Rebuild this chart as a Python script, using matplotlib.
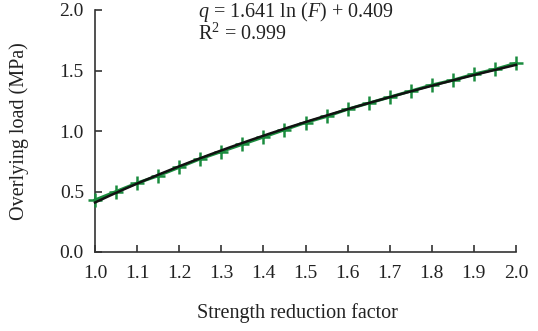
import matplotlib
matplotlib.use("Agg")
import matplotlib.pyplot as plt
import numpy as np

plt.rcParams['font.family'] = ['Liberation Serif', 'DejaVu Serif']
plt.rcParams['mathtext.fontset'] = 'custom'
plt.rcParams['mathtext.rm'] = 'Liberation Serif'
plt.rcParams['mathtext.it'] = 'Liberation Serif:italic'

factor = [1.00, 1.05, 1.10, 1.15, 1.20, 1.25, 1.30, 1.35, 1.40, 1.45, 1.50,
          1.55, 1.60, 1.65, 1.70, 1.75, 1.80, 1.85, 1.90, 1.95, 2.00]
load = [0.43, 0.50, 0.57, 0.63, 0.70, 0.77, 0.83, 0.89, 0.95, 1.01, 1.07,
        1.12, 1.18, 1.23, 1.28, 1.33, 1.38, 1.42, 1.47, 1.51, 1.56]
fit_a = 1.641
fit_b = 0.409
x_ticks = [1.0, 1.1, 1.2, 1.3, 1.4, 1.5, 1.6, 1.7, 1.8, 1.9, 2.0]
y_ticks = [0.0, 0.5, 1.0, 1.5, 2.0]

fig = plt.figure(figsize=(5.38, 3.31), dpi=100)
ax = fig.add_axes([95/538, 1-252/331, (516-95)/538, (252-10)/331])

ax.plot(factor, load, color='#1a8c3e', lw=2.2, marker='+', ms=10, mew=1.8,
        clip_on=False, zorder=3)
xf = np.linspace(factor[0], factor[-1], 200)
ax.plot(xf, fit_a*np.log(xf)+fit_b, color='#111111', lw=1.8, zorder=4, clip_on=False)

ax.set_xlim(1.0, 2.0)
ax.set_ylim(0.0, 2.0)
ax.set_xticks(x_ticks)
ax.set_xticklabels([f"{v:.1f}" for v in x_ticks])
ax.set_yticks(y_ticks)
ax.set_yticklabels([f"{v:.1f}" for v in y_ticks])
for s in ['top', 'right']:
    ax.spines[s].set_visible(False)
for s in ['left', 'bottom']:
    ax.spines[s].set_color('#333333')
    ax.spines[s].set_linewidth(1.2)
ax.tick_params(direction='in', length=5, width=1.2, colors='#333333',
               labelcolor='#222222', labelsize=14)
ax.tick_params(axis='x', pad=9)
ax.tick_params(axis='y', pad=8)

ax.set_ylabel('Overlying load (MPa)', fontsize=14.5, color='#222222', labelpad=22)
fig.text(297/538, 1-313/331, 'Strength reduction factor', fontsize=14.5,
         color='#222222', va='center', ha='center')

fig.text(198/538, 1-12/331, r'$q$ = 1.641 ln ($F$) + 0.409', fontsize=14.5,
         color='#222222', va='center', ha='left')
fig.text(198/538, 1-34/331, r'R$^{2}$ = 0.999', fontsize=14.5,
         color='#222222', va='center', ha='left')

fig.savefig('out.png', dpi=100)
